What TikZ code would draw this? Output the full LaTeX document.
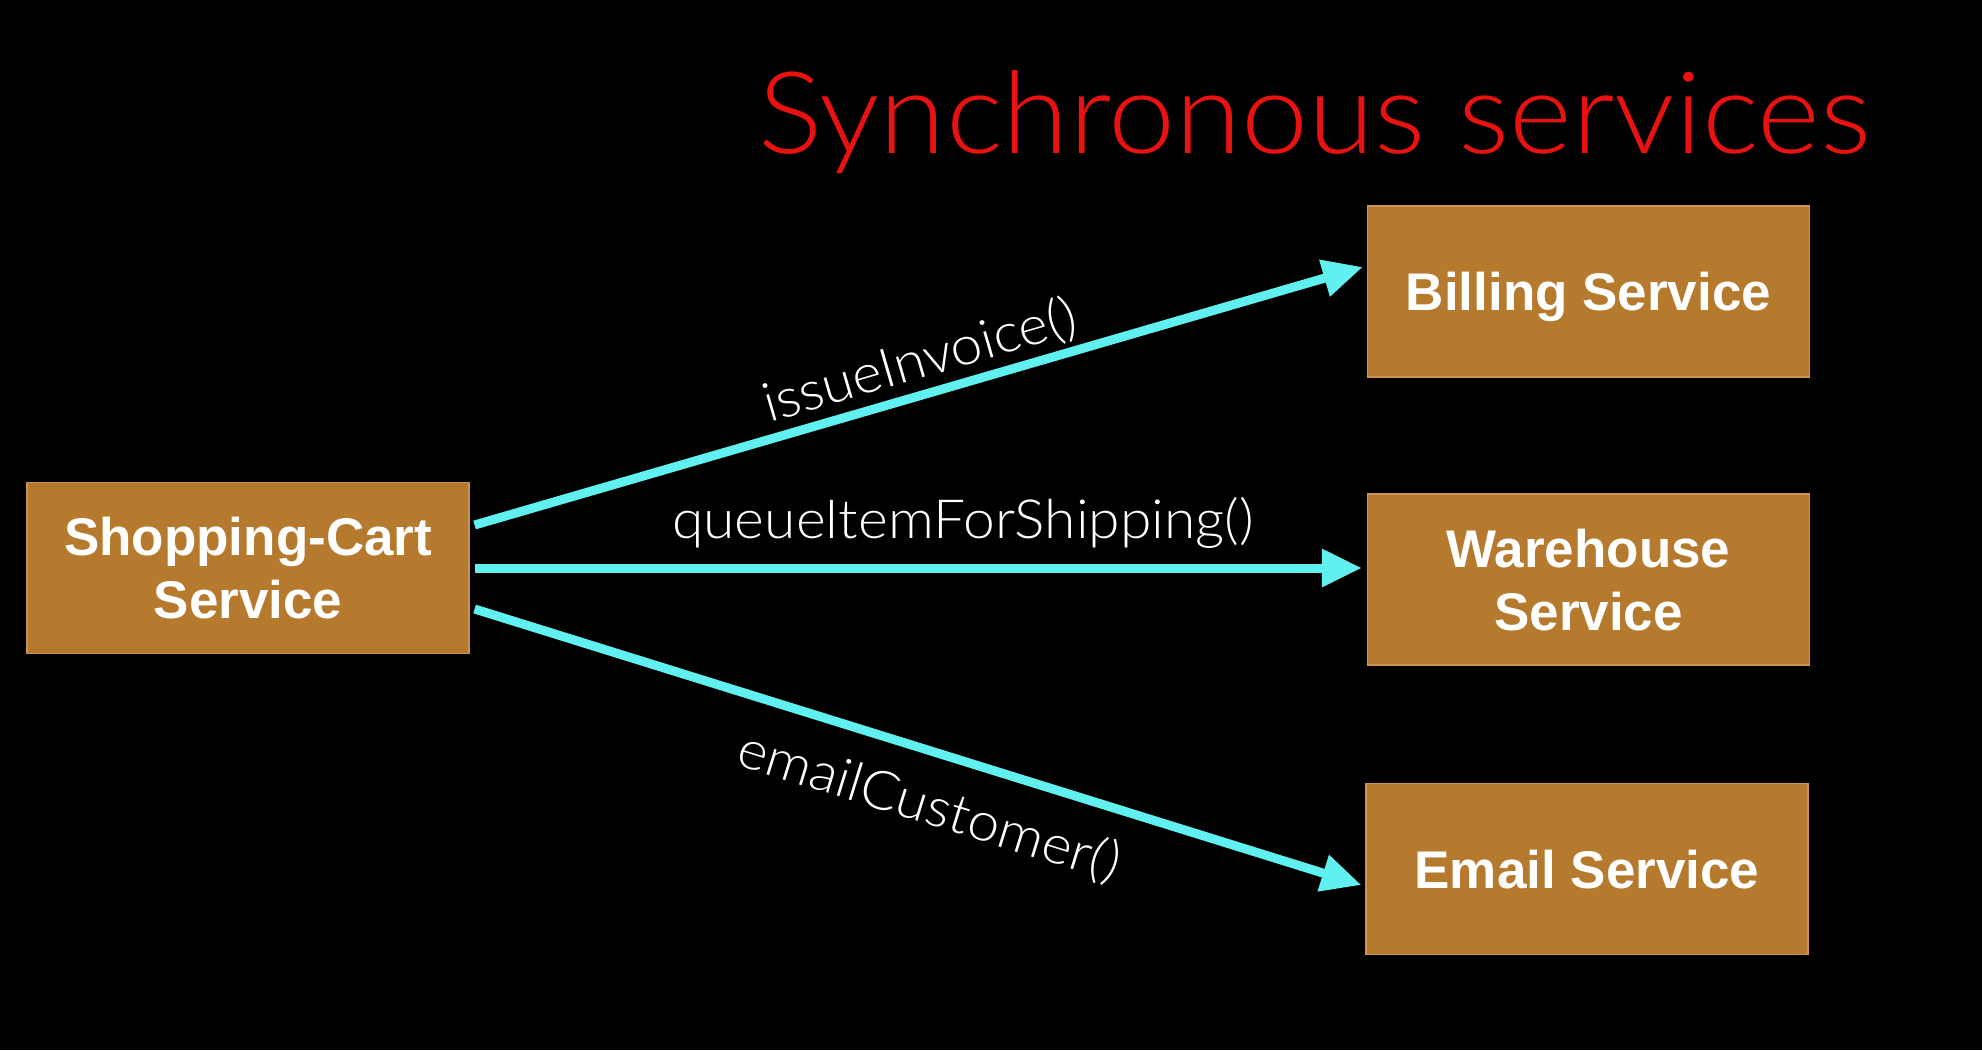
\documentclass[tikz,border=0pt]{standalone}
\usepackage{fontspec}
\setmainfont{Liberation Sans}
\newfontfamily\lightfont{Lato Light}[FakeStretch=1.055]
\usetikzlibrary{calc,arrows.meta}
\definecolor{boxfill}{RGB}{182,122,46}
\definecolor{boxedge}{RGB}{200,148,80}
\definecolor{callcyan}{RGB}{96,240,240}
\definecolor{titlered}{RGB}{232,18,16}
\begin{document}
\begin{tikzpicture}[x=0.5pt,y=-0.5pt,
  servicebox/.style={draw=boxedge, line width=0.6pt, fill=boxfill, text=white,
    font=\bfseries\fontsize{26.5}{31.5}\selectfont, align=center,
    inner sep=0pt, text depth=0pt, minimum width=221pt, minimum height=85.5pt},
  callarrow/.style={draw=callcyan, line width=4.5pt,
    -{Triangle[length=20pt,width=18pt]}},
  calllabel/.style={text=white, font=\lightfont\fontsize{27}{32}\selectfont, inner sep=0pt}]
  % black backdrop sets the page size
  \fill[black] (0,0) rectangle (1982,1050);
  \useasboundingbox (0,0) rectangle (1982,1050);

  % title
  \node[anchor=base west, text=titlered, inner sep=0pt,
        font=\lightfont\fontsize{57}{66}\selectfont] (title) at (758,153) {Synchronous services};

  % services
  \node[servicebox] (cart) at (248,568) {Shopping-Cart\\Service};
  \node[servicebox] (billing) at (1588.5,291.5) {Billing Service};
  \node[servicebox] (warehouse) at (1588.5,579.5) {Warehouse\\Service};
  \node[servicebox] (email) at (1587,869) {Email Service};

  % synchronous calls
  \draw[callarrow] ($(cart.east)+(5,-43)$) -- ($(billing.west)+(-4,-24.5)$);
  \draw[callarrow] ($(cart.east)+(5,0)$) -- ($(warehouse.west)+(-5,-11.5)$);
  \draw[callarrow] ($(cart.east)+(5,41)$) -- ($(email.west)+(-4,16)$);

  % call names
  \node[calllabel, rotate=16.2] (invoice) at (920,361) {issueInvoice()};
  \node[calllabel] (shipping) at (963,523) {queueItemForShipping()};
  \node[calllabel, rotate=-17.2] (mail) at (929,807) {emailCustomer()};
\end{tikzpicture}
\end{document}
